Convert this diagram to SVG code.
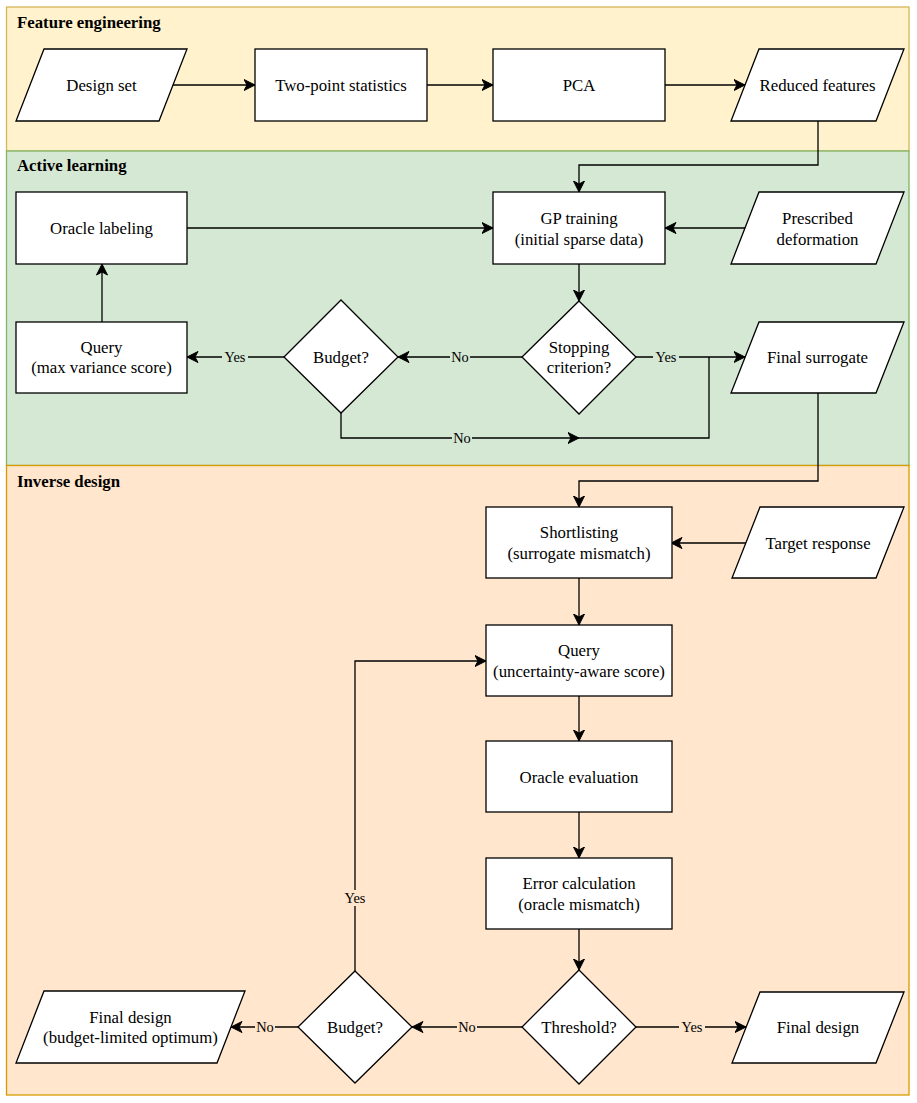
<svg xmlns="http://www.w3.org/2000/svg" width="917" height="1103" viewBox="0 0 917 1103">
<style>
.lane{stroke-width:1.3}
.node{fill:#ffffff;stroke:#000000;stroke-width:1.3}
.t{font-family:Liberation Serif,DejaVu Serif,Noto Serif,Times New Roman,Times,serif;font-size:16.8px;fill:#000000;text-anchor:middle}
.title{font-family:Liberation Serif,DejaVu Serif,Noto Serif,Times New Roman,Times,serif;font-size:16.8px;font-weight:bold;fill:#000000}
.lbl{font-family:Liberation Serif,DejaVu Serif,Noto Serif,Times New Roman,Times,serif;font-size:14.4px;fill:#000000;text-anchor:middle}
.e{fill:none;stroke:#000000;stroke-width:1.3}
.ea{fill:none;stroke:#000000;stroke-width:1.3;marker-end:url(#arr)}
</style>
<defs>
<marker id="arr" markerUnits="userSpaceOnUse" markerWidth="12" markerHeight="12" viewBox="0 0 12 12" refX="11.5" refY="6" orient="auto">
<path d="M0.5,0.5 L11.5,6 L0.5,11.5 L3.5,6 Z" fill="#000000" stroke="#000000" stroke-width="1"/>
</marker>
</defs>

<g id="lanes">
<g id="lane-feature">
<rect class="lane" x="6.5" y="7" width="902.5" height="144" fill="#fff2cc" stroke="#d6b656"/>
<text class="title" x="17" y="28">Feature engineering</text>
</g>
<g id="lane-active">
<rect class="lane" x="6.5" y="151" width="902.5" height="314.5" fill="#d5e8d4" stroke="#82b366"/>
<text class="title" x="17" y="171">Active learning</text>
</g>
<g id="lane-inverse">
<rect class="lane" x="6.5" y="465.5" width="902.5" height="629.5" fill="#ffe6cc" stroke="#d79b00"/>
<text class="title" x="17" y="487">Inverse design</text>
</g>
</g>

<g id="connectors">
<path class="ea" d="M173,85 H255"/>
<path class="ea" d="M427,85 H493"/>
<path class="ea" d="M665,85 H745"/>
<path class="ea" d="M818,121 V165 H579 V192"/>
<path class="ea" d="M745,228 H665"/>
<path class="ea" d="M187,228 H493"/>
<path class="ea" d="M579,264 V301"/>
<path class="ea" d="M522,357 H398"/>
<path class="ea" d="M636,357 H745"/>
<path class="ea" d="M284,357 H187"/>
<path class="ea" d="M102,322 V264"/>
<path class="ea" d="M341,413 V438 H579"/>
<path class="e" d="M579,438 H709 V357"/>
<path class="ea" d="M818,393 V481 H579 V507"/>
<path class="ea" d="M746,543 H671"/>
<path class="ea" d="M579,578 V625"/>
<path class="ea" d="M579,696 V741"/>
<path class="ea" d="M579,812 V858"/>
<path class="ea" d="M579,929 V970"/>
<path class="ea" d="M636,1027 H746"/>
<path class="ea" d="M522,1027 H412"/>
<path class="ea" d="M298,1027 H231"/>
<path class="ea" d="M355,971 V661 H486"/>
<g id="edge-labels">
<rect x="450" y="349" width="20" height="16" fill="#d5e8d4"/>
<text class="lbl" x="460" y="362">No</text>
<rect x="653" y="349" width="26" height="16" fill="#d5e8d4"/>
<text class="lbl" x="666" y="362">Yes</text>
<rect x="222" y="349" width="26" height="16" fill="#d5e8d4"/>
<text class="lbl" x="235" y="362">Yes</text>
<rect x="452" y="430" width="20" height="16" fill="#d5e8d4"/>
<text class="lbl" x="462" y="443">No</text>
<rect x="679" y="1019" width="26" height="16" fill="#ffe6cc"/>
<text class="lbl" x="692" y="1032">Yes</text>
<rect x="457" y="1019" width="20" height="16" fill="#ffe6cc"/>
<text class="lbl" x="467" y="1032">No</text>
<rect x="255" y="1019" width="20" height="16" fill="#ffe6cc"/>
<text class="lbl" x="265" y="1032">No</text>
<rect x="342" y="890" width="26" height="16" fill="#ffe6cc"/>
<text class="lbl" x="355" y="903">Yes</text>
</g>
</g>

<g id="n-design-set">
<polygon class="node" points="44,49 187,49 159,121 16,121"/>
<text class="t" x="101.5" y="91">Design set</text>
</g>
<g id="n-two-point">
<rect class="node" x="255" y="49" width="172" height="72"/>
<text class="t" x="341" y="91">Two-point statistics</text>
</g>
<g id="n-pca">
<rect class="node" x="493" y="49" width="172" height="72"/>
<text class="t" x="579" y="91">PCA</text>
</g>
<g id="n-reduced">
<polygon class="node" points="759,49 904,49 876,121 731,121"/>
<text class="t" x="817.5" y="91">Reduced features</text>
</g>

<g id="n-oracle-labeling">
<rect class="node" x="16" y="192" width="171" height="72"/>
<text class="t" x="101.5" y="234">Oracle labeling</text>
</g>
<g id="n-gp-training">
<rect class="node" x="493" y="192" width="172" height="72"/>
<text class="t" x="579" y="224">GP training</text>
<text class="t" x="579" y="244.5">(initial sparse data)</text>
</g>
<g id="n-prescribed">
<polygon class="node" points="759,192 904,192 876,264 731,264"/>
<text class="t" x="817.5" y="224">Prescribed</text>
<text class="t" x="817.5" y="244.5">deformation</text>
</g>
<g id="n-query-al">
<rect class="node" x="16" y="322" width="171" height="71"/>
<text class="t" x="101.5" y="352.5">Query</text>
<text class="t" x="101.5" y="373">(max variance score)</text>
</g>
<g id="n-budget-al">
<polygon class="node" points="341,300 398,357 341,413 284,357"/>
<text class="t" x="341" y="363">Budget?</text>
</g>
<g id="n-stopping">
<polygon class="node" points="579,301 636,357 579,414 522,357"/>
<text class="t" x="579" y="352.5">Stopping</text>
<text class="t" x="579" y="373">criterion?</text>
</g>
<g id="n-final-surrogate">
<polygon class="node" points="759,322 904,322 876,393 731,393"/>
<text class="t" x="817.5" y="363">Final surrogate</text>
</g>

<g id="n-shortlisting">
<rect class="node" x="486" y="507" width="186" height="71"/>
<text class="t" x="579" y="538">Shortlisting</text>
<text class="t" x="579" y="558.5">(surrogate mismatch)</text>
</g>
<g id="n-target">
<polygon class="node" points="760,507 904,507 876,578 732,578"/>
<text class="t" x="818" y="548.5">Target response</text>
</g>
<g id="n-query-id">
<rect class="node" x="486" y="625" width="186" height="71"/>
<text class="t" x="579" y="656">Query</text>
<text class="t" x="579" y="676.5">(uncertainty-aware score)</text>
</g>
<g id="n-oracle-eval">
<rect class="node" x="486" y="741" width="186" height="71"/>
<text class="t" x="579" y="782.5">Oracle evaluation</text>
</g>
<g id="n-error">
<rect class="node" x="486" y="858" width="186" height="71"/>
<text class="t" x="579" y="889">Error calculation</text>
<text class="t" x="579" y="909.5">(oracle mismatch)</text>
</g>
<g id="n-threshold">
<polygon class="node" points="579,970 636,1027 579,1084 522,1027"/>
<text class="t" x="579" y="1033">Threshold?</text>
</g>
<g id="n-budget-id">
<polygon class="node" points="355,971 412,1027 355,1083 298,1027"/>
<text class="t" x="355" y="1033">Budget?</text>
</g>
<g id="n-final-design">
<polygon class="node" points="760,992 904,992 876,1063 732,1063"/>
<text class="t" x="818" y="1033">Final design</text>
</g>
<g id="n-final-design-budget">
<polygon class="node" points="44,991 245,991 217,1063 16,1063"/>
<text class="t" x="130.5" y="1022.5">Final design</text>
<text class="t" x="130.5" y="1043">(budget-limited optimum)</text>
</g>
</svg>
